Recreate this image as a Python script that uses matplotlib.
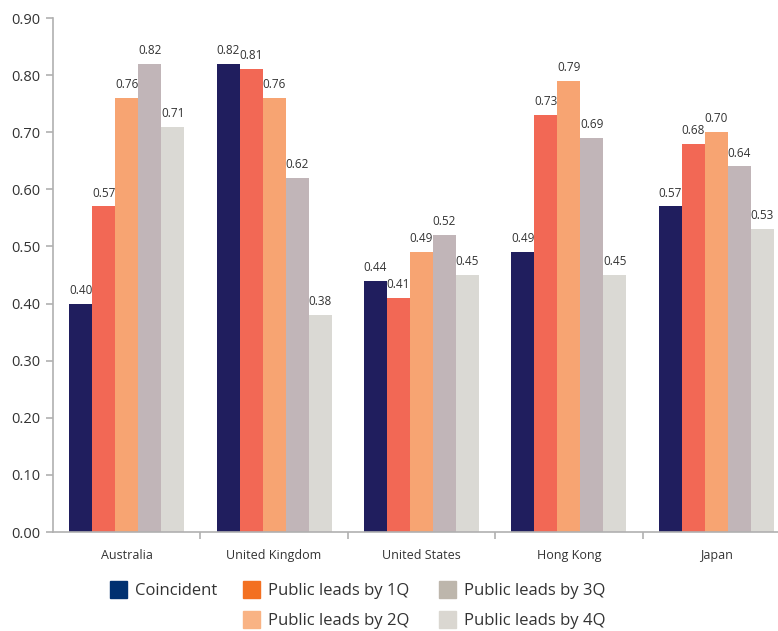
import numpy as np
import matplotlib.pyplot as plt
from matplotlib.patches import Patch

plt.rcParams['font.family'] = ['Open Sans', 'DejaVu Sans']

countries = ['Australia', 'United Kingdom', 'United States', 'Hong Kong', 'Japan']
series = ['Coincident', 'Public leads by 1Q', 'Public leads by 2Q',
          'Public leads by 3Q', 'Public leads by 4Q']
coincident = [0.40, 0.82, 0.44, 0.49, 0.57]
lead_1q = [0.57, 0.81, 0.41, 0.73, 0.68]
lead_2q = [0.76, 0.76, 0.49, 0.79, 0.70]
lead_3q = [0.82, 0.62, 0.52, 0.69, 0.64]
lead_4q = [0.71, 0.38, 0.45, 0.45, 0.53]
values = [coincident, lead_1q, lead_2q, lead_3q, lead_4q]

bar_colors = ['#201e5e', '#f26855', '#f7a472', '#c1b5b8', '#dad9d4']
legend_colors = ['#003070', '#f37021', '#f9b384', '#bdb6ac', '#dad7d1']

fig = plt.figure(figsize=(7.78, 6.31), dpi=100)
ax = fig.add_axes([53 / 778, 1 - 532 / 631, 737 / 778, 514 / 631])

x = np.arange(len(countries))
w = 0.156
for i, vals in enumerate(values):
    pos = x + (i - 2) * w
    ax.bar(pos, vals, width=w, color=bar_colors[i], zorder=2)
    for p, v in zip(pos, vals):
        ax.annotate(f'{v:.2f}', (p, v), xytext=(0, 5), textcoords='offset points',
                    ha='center', va='bottom', fontsize=8.5, color='#333333')

ax.set_xlim(-0.5, 4.5)
ax.set_ylim(0, 0.9)
ax.set_yticks(np.arange(0, 0.91, 0.1))
ax.set_yticklabels([f'{t:.2f}' for t in np.arange(0, 0.91, 0.1)])
ax.set_xticks(x)
ax.set_xticklabels(countries)
ax.set_xticks(x[:-1] + 0.5, minor=True)
ax.tick_params(axis='x', which='major', length=0, pad=12, labelsize=9, labelcolor='#333333')
ax.tick_params(axis='x', which='minor', length=5, color='#b0b0b0', width=1.2)
ax.tick_params(axis='y', length=5, color='#b0b0b0', width=1.2, labelsize=10.5,
               labelcolor='#333333', pad=4)
for s in ['top', 'right']:
    ax.spines[s].set_visible(False)
for s in ['left', 'bottom']:
    ax.spines[s].set_color('#b0b0b0')
    ax.spines[s].set_linewidth(1.2)

# legend: three columns placed by hand
columns = [([0], 110), ([1, 2], 243), ([3, 4], 439)]
for idx, xpix in columns:
    leg = fig.legend([Patch(color=legend_colors[k]) for k in idx],
                     [series[k] for k in idx],
                     loc='upper left', bbox_to_anchor=(xpix / 778, 1 - 581 / 631),
                     frameon=False, fontsize=12, handlelength=1.0, handleheight=1.2,
                     handletextpad=0.5, labelspacing=0.68, borderpad=0,
                     borderaxespad=0, labelcolor='#333333')

fig.savefig('out.png', dpi=100)
